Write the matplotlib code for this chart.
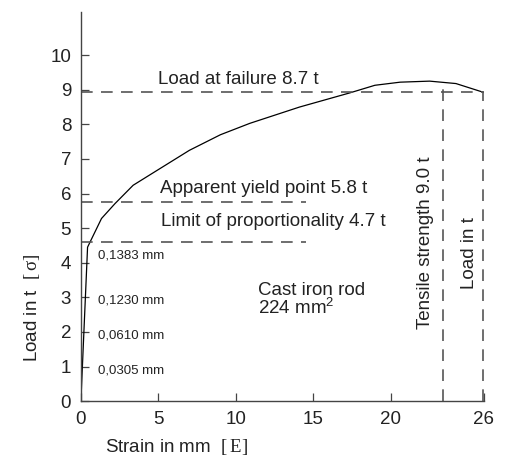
import matplotlib
matplotlib.use("Agg")
import matplotlib.pyplot as plt
import numpy as np

plt.rcParams['font.family'] = ['Liberation Sans', 'DejaVu Sans']
plt.rcParams['mathtext.fontset'] = 'custom'
plt.rcParams['mathtext.rm'] = 'Liberation Serif'
plt.rcParams['mathtext.sf'] = 'Liberation Sans'

# stress-strain curve of the cast iron rod
strain = [0, 0.43, 1.33, 2.2, 3.37, 4.77, 7.0, 9.0, 10.9, 14.1, 17.35, 18.97, 20.6, 22.5, 24.2, 25.95]
load = [0, 4.45, 5.28, 5.71, 6.24, 6.63, 7.25, 7.7, 8.03, 8.5, 8.91, 9.13, 9.22, 9.25, 9.18, 8.93]

# reference levels
failure_load = 8.93
yield_load = 5.77
prop_load = 4.6
tensile_x = 23.35
failure_x = 25.95
tensile_top = 9.22

# elongation notes next to the lower load ticks
elong_labels = ['0,0305 mm', '0,0610 mm', '0,1230 mm', '0,1383 mm']
elong_y = [0.9, 1.9, 2.9, 4.22]

xticks = [0, 5, 10, 15, 20, 26]
yticks = list(range(0, 11))

txt = '#222222'
dash = '#555555'

fig = plt.figure(figsize=(5.12, 4.59), dpi=100)
ax = fig.add_axes([0.158, 0.126, 0.787, 0.848])

ax.plot(strain, load, color='black', lw=0.9)

dstyle = dict(color=dash, lw=1.2, dashes=(7, 5))
ax.plot([0, 26], [failure_load, failure_load], **dstyle)
ax.plot([0, 14.5], [yield_load, yield_load], **dstyle)
ax.plot([0, 14.5], [prop_load, prop_load], **dstyle)
ax.plot([tensile_x, tensile_x], [0, tensile_top], **dstyle)
ax.plot([failure_x, failure_x], [0, failure_load], **dstyle)

fs = 13.5
ax.text(5.0, 9.3, 'Load at failure 8.7 t', fontsize=fs, color=txt, va='center')
ax.text(5.1, 6.16, 'Apparent yield point 5.8 t', fontsize=fs, color=txt, va='center')
ax.text(5.2, 5.2, 'Limit of proportionality 4.7 t', fontsize=fs, color=txt, va='center')
ax.text(11.4, 2.92, 'Cast iron rod\n224 mm$^{\\mathsf{2}}$', fontsize=fs, color=txt,
        va='center', linespacing=0.9)
ax.text(22.25, 4.57, 'Tensile strength 9.0 t', fontsize=fs, color=txt, rotation=90,
        ha='center', va='center')
ax.text(25.05, 4.28, 'Load in t', fontsize=fs, color=txt, rotation=90,
        ha='center', va='center')

for lab, yv in zip(elong_labels, elong_y):
    ax.text(1.1, yv, lab, fontsize=9.5, color=txt, va='center')

ax.set_xlim(0, 26)
ax.set_ylim(0, 11.25)
ax.set_xticks(xticks)
ax.set_yticks(yticks)
ax.set_yticks([1, 2, 3, 4], minor=True)
ax.tick_params(axis='both', which='major', direction='in', length=6, width=0.9,
               labelsize=fs, labelcolor=txt, color='#444444', pad=7)
ax.tick_params(axis='y', which='minor', direction='out', length=4, width=0.9,
               color='#444444')

for s in ['top', 'right']:
    ax.spines[s].set_visible(False)
for s in ['left', 'bottom']:
    ax.spines[s].set_color('#444444')
    ax.spines[s].set_linewidth(1.0)

ax.text(-0.122, 0.239, r'Load in t  $\mathrm{[\,σ]}$', transform=ax.transAxes, rotation=90,
        fontsize=fs, color=txt, ha='center', va='center')
ax.text(0.238, -0.118, r'Strain in mm  $\mathrm{[\,E]}$', transform=ax.transAxes,
        fontsize=fs, color=txt, ha='center', va='center')

plt.savefig('out.png', dpi=100)
